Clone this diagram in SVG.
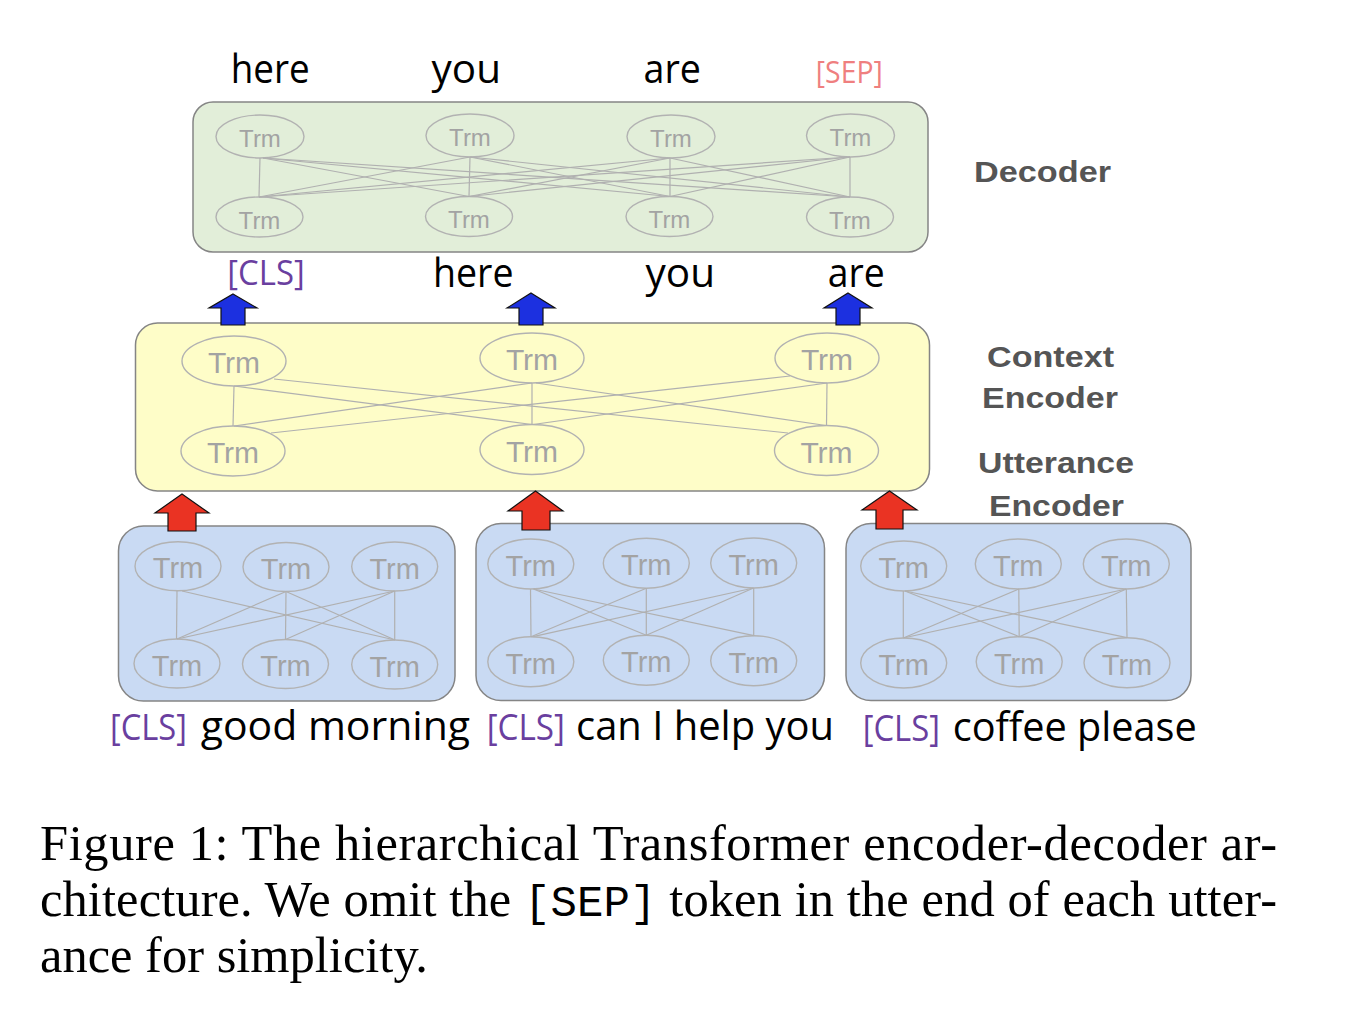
<svg xmlns="http://www.w3.org/2000/svg" width="1352" height="1010" viewBox="0 0 1352 1010">
<style>
.bg{fill:#ffffff}
.box{stroke:#858585;stroke-width:1.5}
.dec{fill:#e2eed9}
.ctx{fill:#fefdc8}
.utt{fill:#c9daf3}
.ell{fill:none;stroke:#b2b2b2;stroke-width:1.4}
.trm{font-family:"Liberation Sans",Arial,sans-serif;fill:#a3a3a3;text-anchor:middle}
.t22{font-size:24px}
.t30{font-size:30px}
.t29{font-size:29px}
.lk{fill:none;stroke:#b0b0b0;stroke-width:1.2}
.word{font-family:"Open Sans","Noto Sans",sans-serif;fill:#000}
.cls{font-family:"Open Sans","Noto Sans",sans-serif;fill:#6a3f9f}
.sep{font-family:"Open Sans","Noto Sans",sans-serif;fill:#ef7f7f}
.lab{font-family:"Liberation Sans",Arial,sans-serif;font-weight:bold;font-size:29px;fill:#555555}
.blue{fill:#1c30e0;stroke:#111;stroke-width:1.2}
.red{fill:#ea3323;stroke:#111;stroke-width:1.2}
.cap{font-family:"Liberation Serif","Times New Roman",serif;font-size:50.5px;fill:#000}
.mono{font-family:"Liberation Mono","Courier New",monospace;font-size:44px}
</style>
<rect class="bg" x="0" y="0" width="1352" height="1010"/>

<g id="decoder">
<rect class="box dec" x="193" y="102" width="735" height="150" rx="20"/>
<ellipse class="ell" cx="260" cy="136.5" rx="44" ry="21.5"/>
<ellipse class="ell" cx="470" cy="135.5" rx="44" ry="21.5"/>
<ellipse class="ell" cx="671" cy="136.5" rx="44" ry="21.5"/>
<ellipse class="ell" cx="850.5" cy="135.5" rx="44" ry="21.5"/>
<ellipse class="ell" cx="259.5" cy="217" rx="43.5" ry="20"/>
<ellipse class="ell" cx="469" cy="216.5" rx="43.5" ry="20"/>
<ellipse class="ell" cx="669.5" cy="216.5" rx="43.5" ry="20"/>
<ellipse class="ell" cx="850" cy="217" rx="43.5" ry="20"/>
<text class="trm t22" x="260" y="147">Trm</text>
<text class="trm t22" x="470" y="146">Trm</text>
<text class="trm t22" x="671" y="147">Trm</text>
<text class="trm t22" x="850.5" y="146">Trm</text>
<text class="trm t22" x="259.5" y="228.5">Trm</text>
<text class="trm t22" x="469" y="228">Trm</text>
<text class="trm t22" x="669.5" y="228">Trm</text>
<text class="trm t22" x="850" y="228.5">Trm</text>
</g>

<g id="context-encoder">
<rect class="box ctx" x="135.5" y="323" width="794" height="168" rx="22"/>
<ellipse class="ell" cx="234" cy="361" rx="52" ry="25"/>
<ellipse class="ell" cx="532" cy="358" rx="52" ry="25"/>
<ellipse class="ell" cx="827" cy="358" rx="52" ry="25"/>
<ellipse class="ell" cx="233" cy="451" rx="52" ry="25"/>
<ellipse class="ell" cx="532" cy="449.5" rx="52" ry="25"/>
<ellipse class="ell" cx="826.5" cy="450.5" rx="52" ry="25"/>
<text class="trm t30" x="234" y="373">Trm</text>
<text class="trm t30" x="532" y="370">Trm</text>
<text class="trm t30" x="827" y="370">Trm</text>
<text class="trm t30" x="233" y="463">Trm</text>
<text class="trm t30" x="532" y="461.5">Trm</text>
<text class="trm t30" x="826.5" y="462.5">Trm</text>
</g>

<g id="utterance-encoder-1">
<rect class="box utt" x="118.5" y="526" width="336.5" height="175" rx="25"/>
<ellipse class="ell" cx="178" cy="566.3" rx="43" ry="24.5"/>
<ellipse class="ell" cx="286" cy="567" rx="43" ry="24.5"/>
<ellipse class="ell" cx="394.7" cy="566.5" rx="43" ry="24.5"/>
<ellipse class="ell" cx="177" cy="663.5" rx="43" ry="24.5"/>
<ellipse class="ell" cx="285.5" cy="664" rx="43" ry="24.5"/>
<ellipse class="ell" cx="394.7" cy="664.5" rx="43" ry="24.5"/>
<text class="trm t29" x="178" y="578.3">Trm</text>
<text class="trm t29" x="286" y="579">Trm</text>
<text class="trm t29" x="394.7" y="578.5">Trm</text>
<text class="trm t29" x="177" y="675.5">Trm</text>
<text class="trm t29" x="285.5" y="676">Trm</text>
<text class="trm t29" x="394.7" y="676.5">Trm</text>
</g>

<g id="utterance-encoder-2">
<rect class="box utt" x="476" y="523.5" width="348.5" height="177" rx="25"/>
<ellipse class="ell" cx="530.8" cy="564" rx="43" ry="25"/>
<ellipse class="ell" cx="646.3" cy="563.3" rx="43" ry="25"/>
<ellipse class="ell" cx="753.7" cy="563" rx="43" ry="25"/>
<ellipse class="ell" cx="530.8" cy="661.7" rx="43" ry="25"/>
<ellipse class="ell" cx="646.3" cy="660.3" rx="43" ry="25"/>
<ellipse class="ell" cx="753.7" cy="660.7" rx="43" ry="25"/>
<text class="trm t29" x="530.8" y="576">Trm</text>
<text class="trm t29" x="646.3" y="575.3">Trm</text>
<text class="trm t29" x="753.7" y="575">Trm</text>
<text class="trm t29" x="530.8" y="673.7">Trm</text>
<text class="trm t29" x="646.3" y="672.3">Trm</text>
<text class="trm t29" x="753.7" y="672.7">Trm</text>
</g>

<g id="utterance-encoder-3">
<rect class="box utt" x="846" y="523.5" width="345" height="177" rx="25"/>
<ellipse class="ell" cx="903.7" cy="566" rx="43" ry="25"/>
<ellipse class="ell" cx="1018.3" cy="564" rx="43" ry="25"/>
<ellipse class="ell" cx="1126.3" cy="564" rx="43" ry="25"/>
<ellipse class="ell" cx="903.7" cy="663" rx="43" ry="25"/>
<ellipse class="ell" cx="1019.2" cy="661.7" rx="43" ry="25"/>
<ellipse class="ell" cx="1127" cy="662.7" rx="43" ry="25"/>
<text class="trm t29" x="903.7" y="578">Trm</text>
<text class="trm t29" x="1018.3" y="576">Trm</text>
<text class="trm t29" x="1126.3" y="576">Trm</text>
<text class="trm t29" x="903.7" y="675">Trm</text>
<text class="trm t29" x="1019.2" y="673.7">Trm</text>
<text class="trm t29" x="1127" y="674.7">Trm</text>
</g>

<g id="connectors">
<g id="decoder-links">
<line class="lk" x1="260" y1="158" x2="259" y2="197"/>
<line class="lk" x1="263" y1="158" x2="469" y2="196.5"/>
<line class="lk" x1="263" y1="158" x2="670" y2="196.5"/>
<line class="lk" x1="263" y1="158" x2="850" y2="197"/>
<line class="lk" x1="470" y1="157" x2="259" y2="197"/>
<line class="lk" x1="470" y1="157" x2="469" y2="196.5"/>
<line class="lk" x1="470" y1="157" x2="670" y2="196.5"/>
<line class="lk" x1="470" y1="157" x2="850" y2="197"/>
<line class="lk" x1="670" y1="158" x2="259" y2="197"/>
<line class="lk" x1="670" y1="158" x2="469" y2="196.5"/>
<line class="lk" x1="670" y1="158" x2="670" y2="196.5"/>
<line class="lk" x1="670" y1="158" x2="850" y2="197"/>
<line class="lk" x1="850" y1="157" x2="259" y2="197"/>
<line class="lk" x1="850" y1="157" x2="469" y2="196.5"/>
<line class="lk" x1="850" y1="157" x2="670" y2="196.5"/>
<line class="lk" x1="850" y1="157" x2="850" y2="197"/>
</g>
<g id="context-links">
<line class="lk" x1="234" y1="386" x2="233" y2="426"/>
<line class="lk" x1="234" y1="386" x2="532" y2="424.5"/>
<line class="lk" x1="274" y1="379" x2="788" y2="433"/>
<line class="lk" x1="532" y1="383" x2="234" y2="426"/>
<line class="lk" x1="532" y1="383" x2="532" y2="424.5"/>
<line class="lk" x1="536" y1="383" x2="826" y2="425.5"/>
<line class="lk" x1="790" y1="376" x2="271" y2="433"/>
<line class="lk" x1="827" y1="383" x2="533" y2="424.5"/>
<line class="lk" x1="827" y1="383" x2="826.5" y2="425.5"/>
</g>
<g id="utterance-links-1">
<line class="lk" x1="177" y1="591" x2="176.5" y2="639"/>
<line class="lk" x1="182" y1="591" x2="395" y2="640"/>
<line class="lk" x1="286" y1="591.5" x2="177" y2="639"/>
<line class="lk" x1="286" y1="591.5" x2="285.5" y2="639.5"/>
<line class="lk" x1="286" y1="591.5" x2="395" y2="640"/>
<line class="lk" x1="394.7" y1="591" x2="177" y2="639"/>
<line class="lk" x1="394.7" y1="591" x2="285.5" y2="639.5"/>
<line class="lk" x1="394.7" y1="591" x2="394.7" y2="640"/>
</g>
<g id="utterance-links-2">
<line class="lk" x1="530.5" y1="589" x2="531" y2="636.7"/>
<line class="lk" x1="533.5" y1="589" x2="646.3" y2="635.3"/>
<line class="lk" x1="533.5" y1="589" x2="754" y2="635.7"/>
<line class="lk" x1="646.3" y1="588.3" x2="531" y2="636.7"/>
<line class="lk" x1="646.3" y1="588.3" x2="646.3" y2="635.3"/>
<line class="lk" x1="753.5" y1="588" x2="533" y2="636.7"/>
<line class="lk" x1="753.5" y1="588" x2="646.3" y2="635.3"/>
<line class="lk" x1="753.7" y1="588" x2="753.7" y2="635.7"/>
</g>
<g id="utterance-links-3">
<line class="lk" x1="903.3" y1="591" x2="903.3" y2="638"/>
<line class="lk" x1="905" y1="591" x2="1019.2" y2="636.7"/>
<line class="lk" x1="905" y1="591" x2="1127" y2="637.7"/>
<line class="lk" x1="1018.8" y1="589" x2="903.3" y2="638"/>
<line class="lk" x1="1018.8" y1="589" x2="1019.2" y2="636.7"/>
<line class="lk" x1="1126.3" y1="589" x2="903.3" y2="638"/>
<line class="lk" x1="1126.3" y1="589" x2="1019.2" y2="636.7"/>
<line class="lk" x1="1126.3" y1="589" x2="1127" y2="637.7"/>
</g>
<g id="context-to-decoder-arrows">
<polygon class="blue" points="233,294 257,308 245,308 245,325 221,325 221,308 209,308"/>
<polygon class="blue" points="531,293 555,308 543,308 543,325 519,325 519,308 507,308"/>
<polygon class="blue" points="848,293 872,308 860,308 860,325 836,325 836,308 824,308"/>
</g>
<g id="utterance-to-context-arrows">
<polygon class="red" points="182,494 209,513 196,513 196,531 168,531 168,513 155,513"/>
<polygon class="red" points="535.5,491 563,511 550,511 550,530 522,530 522,511 508,511"/>
<polygon class="red" points="889.5,491 917,510 903,510 903,529 876,529 876,510 862,510"/>
</g>
</g>

<g id="decoder-output-tokens">
<text class="word" font-size="40" x="230.7" y="83" textLength="79" lengthAdjust="spacingAndGlyphs">here</text>
<text class="word" font-size="40" x="431.6" y="83" textLength="69.4" lengthAdjust="spacingAndGlyphs">you</text>
<text class="word" font-size="40" x="643.6" y="83" textLength="57.4" lengthAdjust="spacingAndGlyphs">are</text>
<text class="sep" font-size="31" x="815.8" y="83" textLength="67" lengthAdjust="spacingAndGlyphs">[SEP]</text>
</g>

<g id="decoder-input-tokens">
<text class="cls" font-size="35" x="227.3" y="285" textLength="77.5" lengthAdjust="spacingAndGlyphs">[CLS]</text>
<text class="word" font-size="40" x="433" y="287" textLength="80.5" lengthAdjust="spacingAndGlyphs">here</text>
<text class="word" font-size="40" x="645.5" y="287" textLength="69.5" lengthAdjust="spacingAndGlyphs">you</text>
<text class="word" font-size="40" x="827.8" y="287" textLength="57" lengthAdjust="spacingAndGlyphs">are</text>
</g>

<g id="utterance-tokens">
<text class="cls" font-size="36" x="110" y="740" textLength="77" lengthAdjust="spacingAndGlyphs">[CLS]</text>
<text class="word" font-size="40" x="200.7" y="740" textLength="269.3" lengthAdjust="spacingAndGlyphs">good morning</text>
<text class="cls" font-size="36" x="486.7" y="740" textLength="78.3" lengthAdjust="spacingAndGlyphs">[CLS]</text>
<text class="word" font-size="40" x="576" y="740" textLength="258" lengthAdjust="spacingAndGlyphs">can I help you</text>
<text class="cls" font-size="36" x="862.7" y="741" textLength="77.3" lengthAdjust="spacingAndGlyphs">[CLS]</text>
<text class="word" font-size="40" x="952.7" y="741" textLength="244" lengthAdjust="spacingAndGlyphs">coffee please</text>
</g>

<g id="layer-labels">
<text class="lab" x="974" y="182" textLength="137" lengthAdjust="spacingAndGlyphs">Decoder</text>
<text class="lab" x="987" y="367" textLength="127" lengthAdjust="spacingAndGlyphs">Context</text>
<text class="lab" x="982" y="408" textLength="136" lengthAdjust="spacingAndGlyphs">Encoder</text>
<text class="lab" x="978" y="473" textLength="156" lengthAdjust="spacingAndGlyphs">Utterance</text>
<text class="lab" x="989" y="516" textLength="135" lengthAdjust="spacingAndGlyphs">Encoder</text>
</g>

<g id="caption">
<text class="cap" x="40" y="860" textLength="1237" lengthAdjust="spacing">Figure 1: The hierarchical Transformer encoder-decoder ar-</text>
<text class="cap" x="40" y="916" textLength="1237" lengthAdjust="spacing">chitecture. We omit the <tspan class="mono">[SEP]</tspan> token in the end of each utter-</text>
<text class="cap" x="40" y="972">ance for simplicity.</text>
</g>
</svg>
